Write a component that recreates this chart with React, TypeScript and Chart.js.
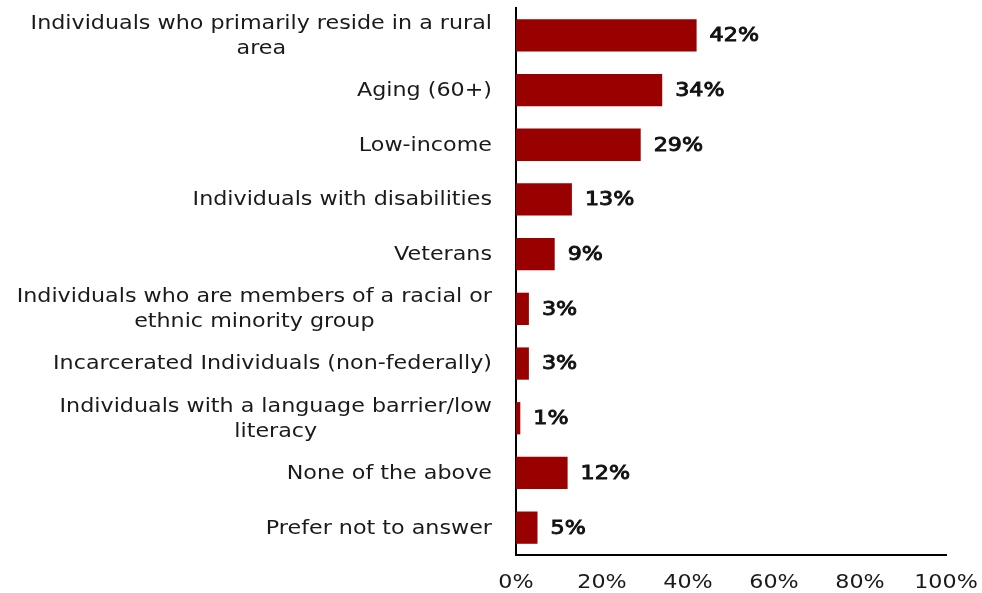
import React, { useEffect, useRef } from "react";
import { Chart, registerables } from "chart.js";

Chart.register(...registerables);

const categories: string[][] = [
  ["Individuals who primarily reside in a rural", "area"],
  ["Aging (60+)"],
  ["Low-income"],
  ["Individuals with disabilities"],
  ["Veterans"],
  ["Individuals who are members of a racial or", "ethnic minority group"],
  ["Incarcerated Individuals (non-federally)"],
  ["Individuals with a language barrier/low", "literacy"],
  ["None of the above"],
  ["Prefer not to answer"],
];
const values: number[] = [42, 34, 29, 13, 9, 3, 3, 1, 12, 5];
const xTicks: number[] = [0, 20, 40, 60, 80, 100];

const FONT = "'DejaVu Sans', sans-serif";
const SX = 1.17;

function stretchText(
  ctx: CanvasRenderingContext2D,
  text: string,
  x: number,
  y: number,
  align: "left" | "center" | "right",
  stroke = 0
) {
  const w = ctx.measureText(text).width * SX;
  let left = x;
  if (align === "center") left = x - w / 2;
  else if (align === "right") left = x - w;
  ctx.save();
  ctx.translate(left, y);
  ctx.scale(SX, 1);
  ctx.textAlign = "left";
  ctx.fillText(text, 0, 0);
  if (stroke > 0) {
    ctx.lineWidth = stroke;
    ctx.strokeStyle = ctx.fillStyle as string;
    ctx.strokeText(text, 0, 0);
  }
  ctx.restore();
}

export default function App() {
  const ref = useRef<HTMLCanvasElement | null>(null);
  useEffect(() => {
    if (!ref.current) return;
    const labelPlugin = {
      id: "customLabels",
      afterDraw(chart: any) {
        const ctx = chart.ctx as CanvasRenderingContext2D;
        const yScale = chart.scales.y;
        const xScale = chart.scales.x;
        ctx.save();
        ctx.font = `19px ${FONT}`;
        ctx.fillStyle = "#1a1a1a";
        ctx.textBaseline = "middle";
        const lh = 25;
        categories.forEach((lines, i) => {
          const cy = yScale.getPixelForValue(i) + 1;
          const widths = lines.map((l) => ctx.measureText(l).width * SX);
          const bw = Math.max(...widths);
          const right = xScale.left - 24;
          const cx = right - bw / 2;
          const top = cy - ((lines.length - 1) * lh) / 2;
          lines.forEach((l, j) => stretchText(ctx, l, cx, top + j * lh, "center"));
        });
        // x tick labels
        xTicks.forEach((v) => {
          stretchText(ctx, v + "%", xScale.getPixelForValue(v), xScale.bottom - 10, "center");
        });
        // value labels
        ctx.font = `19px ${FONT}`;
        ctx.fillStyle = "#111";
        const meta = chart.getDatasetMeta(0);
        meta.data.forEach((bar: any, i: number) => {
          stretchText(ctx, values[i] + "%", bar.x + 13, bar.y + 1, "left", 0.9);
        });
        ctx.restore();
      },
    };
    const chart = new Chart(ref.current, {
      type: "bar",
      data: {
        labels: categories.map((c) => c.join(" ")),
        datasets: [
          {
            data: values,
            backgroundColor: "#990000",
            borderWidth: 0,
            barPercentage: 0.59,
            categoryPercentage: 1,
          },
        ],
      },
      options: {
        indexAxis: "y",
        animation: false,
        responsive: false,
        maintainAspectRatio: false,
        layout: { padding: { top: 8, right: 36, left: 0, bottom: 0 } },
        plugins: { legend: { display: false }, tooltip: { enabled: false } },
        scales: {
          x: {
            min: 0,
            max: 100,
            afterBuildTicks: (scale: any) => {
              scale.ticks = xTicks.map((v) => ({ value: v }));
            },
            afterFit: (scale: any) => {
              scale.height = 38;
            },
            grid: { display: false, drawTicks: false },
            border: { display: true, color: "#000", width: 2 },
            ticks: { display: false },
          },
          y: {
            afterFit: (scale: any) => {
              scale.width = 516;
            },
            grid: { display: false, drawTicks: false },
            border: { display: true, color: "#000", width: 2 },
            ticks: { display: false },
          },
        },
      },
      plugins: [labelPlugin],
    });
    return () => chart.destroy();
  }, []);
  return (
    <div style={{ position: "fixed", left: 0, top: 0, width: 982, height: 593, background: "#fff" }}>
      <canvas ref={ref} width={982} height={593} />
    </div>
  );
}
